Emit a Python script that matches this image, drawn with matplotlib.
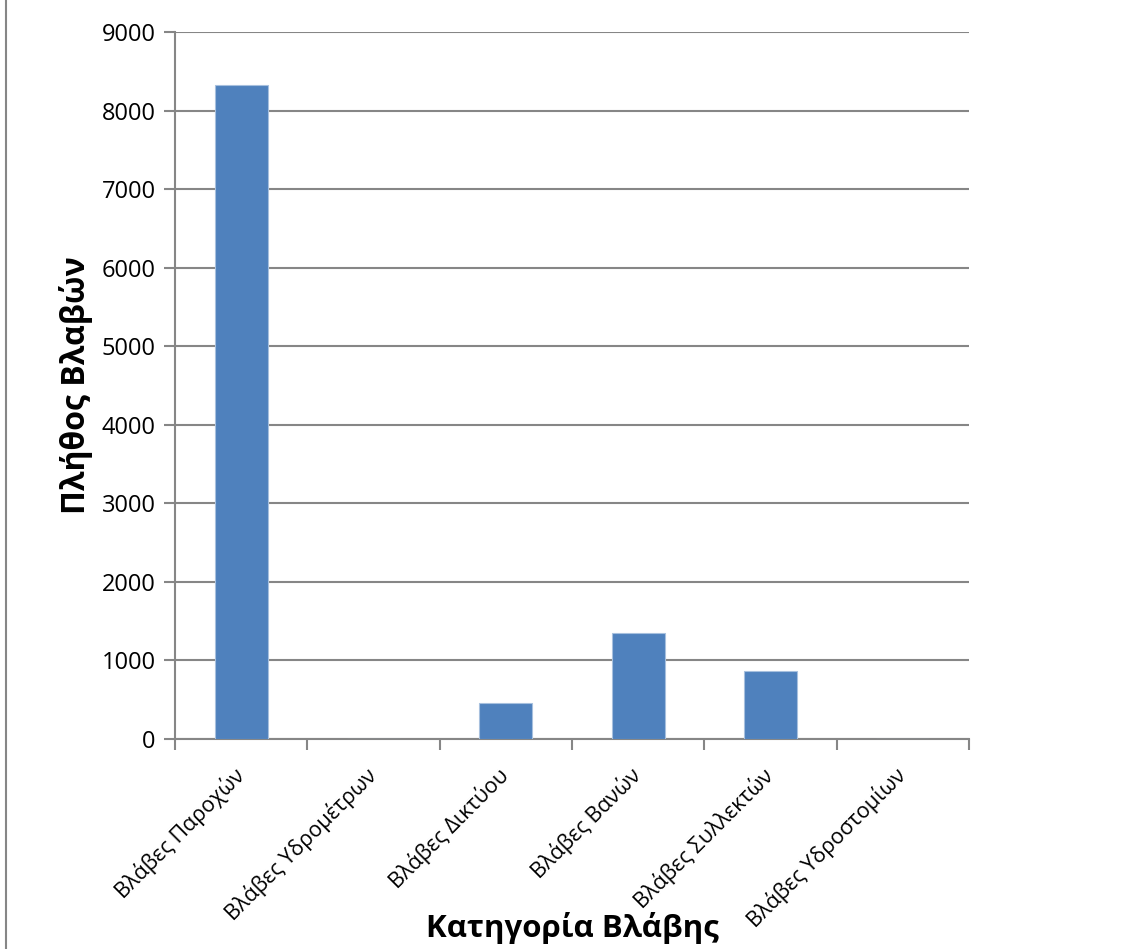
import matplotlib.pyplot as plt
import matplotlib.lines as mlines
import numpy as np

plt.rcParams['font.family'] = ['Open Sans', 'DejaVu Sans']

categories = ["Βλάβες Παροχών", "Βλάβες Υδρομέτρων", "Βλάβες Δικτύου",
              "Βλάβες Βανών", "Βλάβες Συλλεκτών", "Βλάβες Υδροστομίων"]
counts = [8330, 0, 460, 1350, 865, 0]
yticks = [0, 1000, 2000, 3000, 4000, 5000, 6000, 7000, 8000, 9000]

grey = "#868686"

fig = plt.figure(figsize=(11.47, 9.49), dpi=100)
ax = fig.add_axes([0.1526, 0.2213, 0.6922, 0.745])

x = np.arange(len(categories))
ax.bar(x, counts, width=0.4, color="#4F81BD", edgecolor="#A7C0DE", linewidth=0.8, zorder=3)

ax.set_xlim(-0.5, len(categories) - 0.5)
ax.set_ylim(0, 9000)
ax.set_yticks(yticks)
ax.yaxis.grid(True, color=grey, linewidth=1.5, zorder=0)
ax.tick_params(axis='y', length=8, width=1.5, color=grey, labelsize=17, pad=6)

ax.set_xticks(x)
ax.set_xticklabels(categories, rotation=45, ha='right', va='center',
                   rotation_mode='anchor', fontsize=15.5)
ax.tick_params(axis='x', which='major', length=0, pad=24)
ax.set_xticks(np.arange(-0.5, len(categories)), minor=True)
ax.tick_params(axis='x', which='minor', length=8, width=1.5, color=grey)

for s in ['top', 'right']:
    ax.spines[s].set_visible(False)
for s in ['left', 'bottom']:
    ax.spines[s].set_color(grey)
    ax.spines[s].set_linewidth(1.5)

ax.set_ylabel("Πλήθος Βλαβών", fontsize=23, fontweight='bold')
ax.yaxis.set_label_coords(-0.103, 0.5)
ax.set_xlabel("Κατηγορία Βλάβης", fontsize=22.5, fontweight='bold')
ax.xaxis.set_label_coords(0.5, -0.245)

fig.add_artist(mlines.Line2D([6/1147, 6/1147], [0, 1], color=grey, linewidth=1.5))

fig.savefig("out.png", dpi=100)
